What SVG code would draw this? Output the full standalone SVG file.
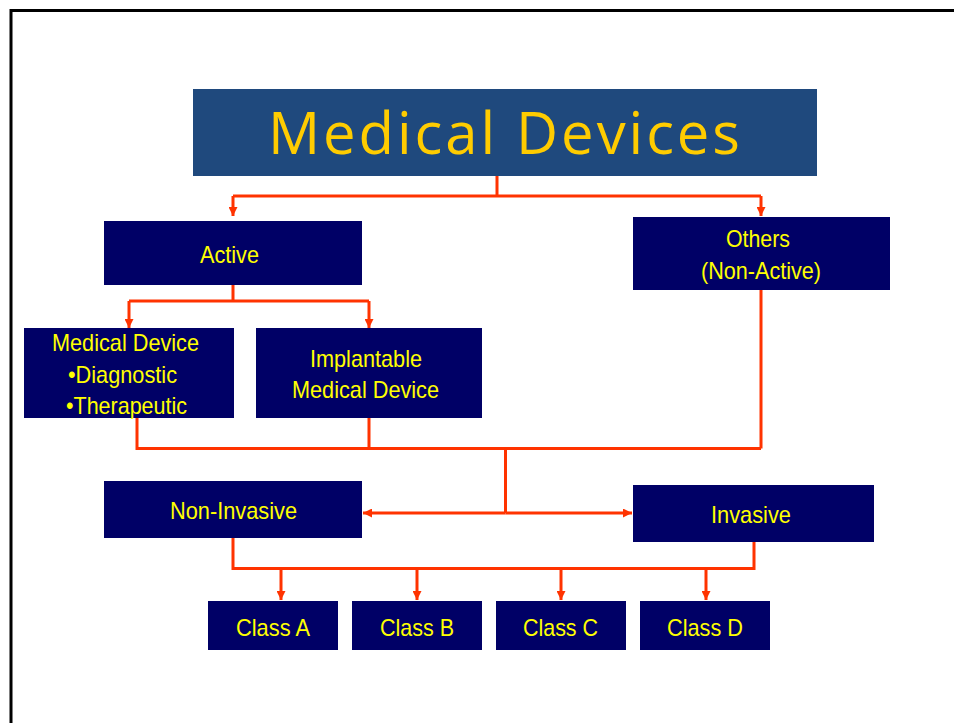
<svg xmlns="http://www.w3.org/2000/svg" width="954" height="723" viewBox="0 0 954 723">
<style>
.node{fill:#000066}
.t{font-family:"Liberation Sans",Arial,sans-serif;font-size:24px;fill:#FFFF00}
.title{font-family:"Open Sans","Liberation Sans",sans-serif;font-size:58px;fill:#FFCC00}
.c{fill:none;stroke:#FF3300;stroke-width:3}
</style>
<defs>
<marker id="ah" viewBox="0 0 10 10" refX="10" refY="5" markerWidth="3" markerHeight="3" orient="auto" markerUnits="strokeWidth">
<path d="M0,0 L10,5 L0,10 z" fill="#FF3300"/>
</marker>
</defs>
<rect width="954" height="723" fill="#FFFFFF"/>
<path d="M11,723 V10.5 H954" fill="none" stroke="#000" stroke-width="3"/>
<g id="connectors">
<path class="c" d="M497,176 V196 M233,196 H761"/>
<path class="c" d="M233,196 V216" marker-end="url(#ah)"/>
<path class="c" d="M761,196 V216" marker-end="url(#ah)"/>
<path class="c" d="M233,285 V301 M129,301 H369"/>
<path class="c" d="M129,301 V328" marker-end="url(#ah)"/>
<path class="c" d="M369,301 V328" marker-end="url(#ah)"/>
<path class="c" d="M137,418 V448.5 H761 M369,418 V448.5 M761,290 V448.5"/>
<path class="c" d="M505.5,448.5 V513"/>
<path class="c" d="M505.5,513 H363" marker-end="url(#ah)"/>
<path class="c" d="M505.5,513 H632" marker-end="url(#ah)"/>
<path class="c" d="M233,538 V568.5 H754 V542"/>
<path class="c" d="M281,568.5 V600" marker-end="url(#ah)"/>
<path class="c" d="M417,568.5 V600" marker-end="url(#ah)"/>
<path class="c" d="M561,568.5 V600" marker-end="url(#ah)"/>
<path class="c" d="M706,568.5 V600" marker-end="url(#ah)"/>
</g>
<g id="title">
<rect x="193" y="89" width="624" height="87" fill="#1F497D"/>
<text class="title" x="268" y="154" textLength="472" lengthAdjust="spacing">Medical Devices</text>
</g>
<g id="active">
<rect class="node" x="104" y="221" width="258" height="64"/>
<text class="t" x="200" y="263" textLength="59" lengthAdjust="spacingAndGlyphs">Active</text>
</g>
<g id="others">
<rect class="node" x="633" y="217" width="257" height="73"/>
<text class="t" x="726" y="247" textLength="64" lengthAdjust="spacingAndGlyphs">Others</text>
<text class="t" x="701" y="279" textLength="120" lengthAdjust="spacingAndGlyphs">(Non-Active)</text>
</g>
<g id="medical-device">
<rect class="node" x="24" y="328" width="210" height="90"/>
<text class="t" x="52" y="351" textLength="147" lengthAdjust="spacingAndGlyphs">Medical Device</text>
<text class="t" x="68" y="383" textLength="109" lengthAdjust="spacingAndGlyphs">•Diagnostic</text>
<text class="t" x="66" y="414" textLength="121" lengthAdjust="spacingAndGlyphs">•Therapeutic</text>
</g>
<g id="implantable">
<rect class="node" x="256" y="328" width="226" height="90"/>
<text class="t" x="310" y="367" textLength="112" lengthAdjust="spacingAndGlyphs">Implantable</text>
<text class="t" x="292" y="398" textLength="147" lengthAdjust="spacingAndGlyphs">Medical Device</text>
</g>
<g id="non-invasive">
<rect class="node" x="104" y="481" width="258" height="57"/>
<text class="t" x="170" y="519" textLength="127" lengthAdjust="spacingAndGlyphs">Non-Invasive</text>
</g>
<g id="invasive">
<rect class="node" x="633" y="485" width="241" height="57"/>
<text class="t" x="711" y="523" textLength="80" lengthAdjust="spacingAndGlyphs">Invasive</text>
</g>
<g id="class-a">
<rect class="node" x="208" y="601" width="130" height="49"/>
<text class="t" x="236" y="636" textLength="74" lengthAdjust="spacingAndGlyphs">Class A</text>
</g>
<g id="class-b">
<rect class="node" x="352" y="601" width="130" height="49"/>
<text class="t" x="380" y="636" textLength="74" lengthAdjust="spacingAndGlyphs">Class B</text>
</g>
<g id="class-c">
<rect class="node" x="496" y="601" width="130" height="49"/>
<text class="t" x="523" y="636" textLength="75" lengthAdjust="spacingAndGlyphs">Class C</text>
</g>
<g id="class-d">
<rect class="node" x="640" y="601" width="130" height="49"/>
<text class="t" x="667" y="636" textLength="76" lengthAdjust="spacingAndGlyphs">Class D</text>
</g>
</svg>
